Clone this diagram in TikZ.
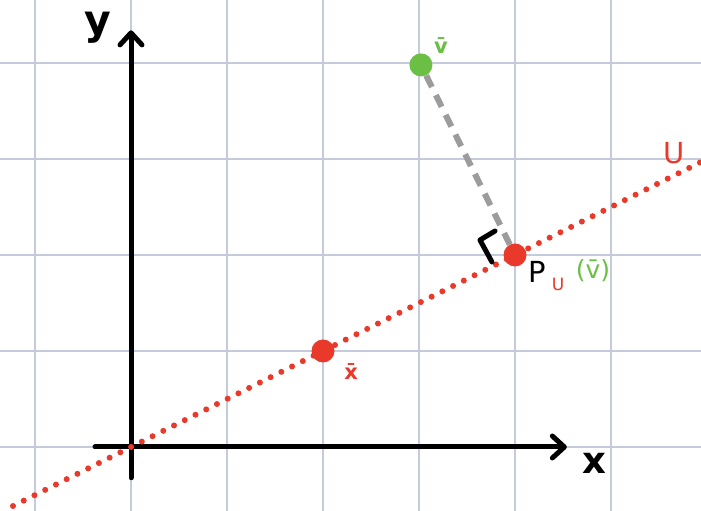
\documentclass[tikz,border=0pt]{standalone}
\usepackage{fontspec}
\setmainfont{DejaVu Sans}
\usetikzlibrary{arrows.meta}
\definecolor{gridc}{HTML}{C3CBDC}
\definecolor{redc}{HTML}{E8392B}
\definecolor{greenc}{HTML}{6BBF45}
\definecolor{grayc}{HTML}{9C9C9C}
\tikzset{
  gridline/.style={draw=gridc, line width=1.5pt},
  axisline/.style={draw=black, line width=5pt, line cap=round,
    -{Straight Barb[length=12pt,width=22pt,line cap=round,line join=round]}},
  udotted/.style={draw=redc, line width=6pt, line cap=round, dash pattern=on 0pt off 12pt},
  projdash/.style={draw=grayc, line width=6pt, dash pattern=on 13pt off 9pt},
  anglemark/.style={draw=black, line width=5pt, line cap=round, line join=round},
  bigdot/.style={circle, fill=#1, minimum size=23pt, inner sep=0pt},
  lab/.style={inner sep=0pt, text=#1},
}
\begin{document}
\begin{tikzpicture}[x=96pt,y=96pt]
\useasboundingbox (-1.3646,-0.6667) rectangle (5.9375,4.65625);
\fill[white] (-1.3646,-0.6667) rectangle (5.9375,4.65625);
% grid
\foreach \i in {-1,...,5} \draw[gridline] (\i,-0.6667) -- (\i,4.65625);
\foreach \j in {0,...,4} \draw[gridline] (-1.3646,\j) -- (5.9375,\j);
% axes
\coordinate (xs) at (-0.375,0);
\coordinate (xe) at (4.54,0);
\coordinate (ys) at (0,-0.32);
\coordinate (ye) at (0,4.34);
\draw[axisline] (xs) -- (xe);
\draw[axisline] (ys) -- (ye);
\node[lab=black, font=\bfseries\fontsize{41}{41}\selectfont] (ylab) at (-0.349,4.37) {y};
\node[lab=black, font=\bfseries\fontsize{37}{37}\selectfont] (xlab) at (4.823,-0.167) {x};
% line U
\coordinate (ua) at (-1.229,-0.6145);
\coordinate (ub) at (5.94,2.97);
\draw[udotted] (ua) -- (ub);
\node[lab=redc, font=\fontsize{29}{29}\selectfont] (ulab) at (5.656,3.06) {U};
% points
\node[bigdot=redc] (xpt) at (2,1) {};
\node[bigdot=greenc] (vpt) at (3.02,3.98) {};
\node[bigdot=redc] (ppt) at (4,2) {};
\draw[projdash] (vpt) -- (ppt);
% right angle mark
\draw[anglemark] ([shift={(-0.24,-0.073)}]ppt.center) -- ([shift={(-0.365,0.156)}]ppt.center) -- ([shift={(-0.208,0.25)}]ppt.center);
% labels
\node[lab=greenc, font=\bfseries\fontsize{21}{21}\selectfont] (vlab) at (3.229,4.18) {\=v};
\node[lab=redc, font=\bfseries\fontsize{21}{21}\selectfont] (xptlab) at (2.292,0.79) {\=x};
\node[lab=black, font=\fontsize{29}{29}\selectfont] (plab) at (4.229,1.823) {P};
\node[lab=redc, font=\fontsize{17}{17}\selectfont] (pulab) at (4.448,1.69) {U};
\node[lab=greenc, font=\fontsize{25}{25}\selectfont] (pvlab) at (4.8125,1.833) {(\=v)};
\end{tikzpicture}
\end{document}
